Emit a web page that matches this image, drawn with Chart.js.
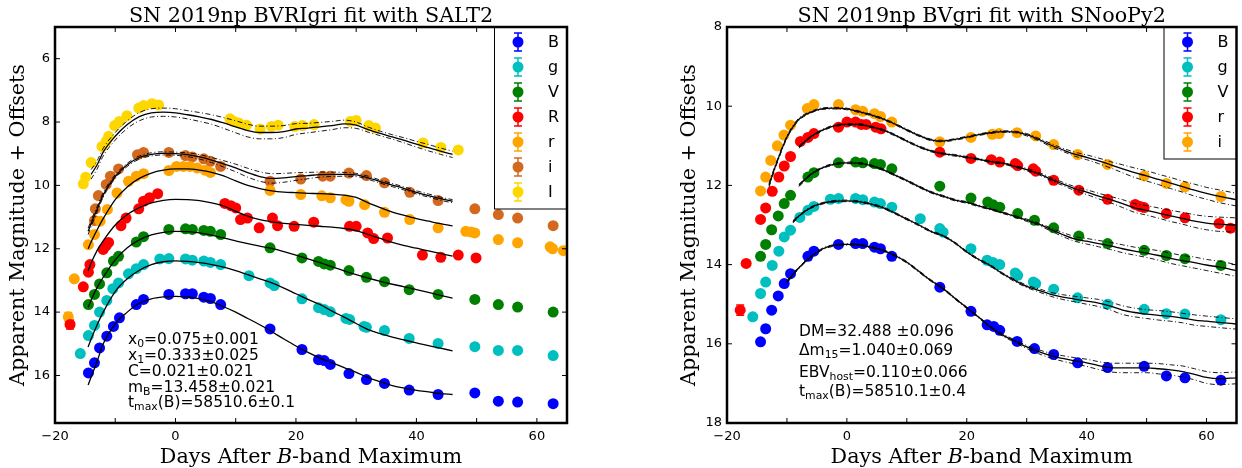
<!DOCTYPE html>
<html><head><meta charset="utf-8">
<script src="https://cdn.jsdelivr.net/npm/chart.js@4.4.1/dist/chart.umd.min.js"></script>
<style>
body{margin:0;background:#fff;width:1242px;height:468px;overflow:hidden;position:relative}
canvas{position:absolute;top:0}
#left{left:0}
#right{left:621px}
</style></head><body>
<canvas id="left" width="621" height="468"></canvas>
<canvas id="right" width="621" height="468"></canvas>
<script>
// ---- left panel: SALT2 (days after B max, magnitude + offset) ----
const lB_day=[-14.45,-13.45,-12.6,-11.4,-10.3,-9.3,-6.5,-5.3,-1.1,1.67,2.8,4.7,5.8,7.5,15.7,21.0,23.75,24.7,25.7,28.8,31.7,34.7,38.8,43.6,49.7,53.6,56.8,62.7]
const lB_mag=[15.92,15.6,15.13,14.76,14.45,14.18,13.76,13.6,13.44,13.42,13.42,13.53,13.57,13.76,14.53,15.18,15.5,15.53,15.65,15.94,16.13,16.25,16.46,16.6,16.55,16.81,16.84,16.89]
const lg_day=[-15.8,-14.45,-13.45,-12.6,-11.4,-10.4,-9.45,-7.8,-6.5,-5.3,-2.6,-1.1,1.67,2.8,4.7,5.8,7.5,12.2,15.7,16.4,21.0,23.75,24.7,25.7,28.3,28.9,31.3,31.7,34.7,38.8,43.6,49.7,53.6,56.8,62.7]
const lg_mag=[15.31,14.74,14.42,14.0,13.63,13.26,13.08,12.79,12.63,12.5,12.32,12.31,12.32,12.36,12.39,12.43,12.5,12.85,13.08,13.16,13.58,13.86,13.92,13.99,14.2,14.23,14.45,14.48,14.58,14.83,14.99,15.09,15.21,15.21,15.37]
const lV_day=[-14.45,-13.45,-12.6,-11.4,-10.3,-9.45,-6.5,-5.3,-1.1,1.67,2.8,4.7,5.8,7.5,15.7,21.0,23.75,24.7,25.7,28.8,31.7,34.7,38.8,43.6,49.7,53.6,56.8,62.7]
const lV_mag=[13.76,13.44,13.11,12.76,12.39,12.24,11.79,11.62,11.39,11.37,11.39,11.42,11.45,11.55,11.97,12.29,12.4,12.48,12.52,12.69,12.9,13.04,13.29,13.44,13.6,13.76,13.84,14.0]
const lR_day=[-17.5,-15.3,-14.45,-14.2,-12.0,-11.5,-11.1,-9.05,-8.2,-6.1,-5.3,-4.3,-2.95,8.2,9.2,10.0,10.8,11.95,13.9,16.1,16.95,19.7,22.95,28.9,30.0,31.9,32.9,35.2,41.0,44.05,46.95,49.9]
const lR_mag=[14.39,13.2,12.74,12.5,12.02,11.9,11.8,11.27,11.03,10.74,10.5,10.39,10.26,10.57,10.64,10.71,11.08,11.03,11.34,11.03,11.27,11.29,11.16,11.29,11.29,11.5,11.68,11.66,12.2,12.27,12.2,12.29]
const lR_err=[0.14]
const lr_day=[-17.8,-16.8,-14.45,-13.45,-12.5,-11.3,-9.7,-7.8,-6.5,-5.3,-1.1,0.17,1.3,2.4,3.6,4.9,5.8,15.7,20.8,24.3,25.7,28.3,28.8,31.4,34.7,38.9,43.6,48.2,49.05,49.7,53.6,56.8,62.2,62.6,64.4]
const lr_mag=[14.15,12.95,11.87,11.55,11.13,10.76,10.24,9.87,9.71,9.63,9.53,9.4,9.4,9.4,9.45,9.52,9.59,10.16,10.29,10.33,10.39,10.45,10.5,10.61,10.85,11.08,11.34,11.45,11.47,11.5,11.71,11.81,11.94,12.0,12.06]
const lr_err=[0.14]
const li_day=[-13.45,-13.3,-12.8,-11.5,-10.8,-9.45,-6.3,-5.3,-1.1,1.67,2.8,4.7,5.8,7.5,15.7,20.8,24.45,25.7,28.8,31.7,34.7,38.9,43.6,49.7,53.6,56.8,62.7]
const li_mag=[11.11,10.74,10.32,9.97,9.71,9.48,9.03,8.96,8.96,9.06,9.1,9.16,9.24,9.4,9.87,9.8,9.71,9.71,9.61,9.69,9.92,10.22,10.48,10.74,10.92,11.03,11.27]
const lI_day=[-15.3,-14.9,-14.0,-12.2,-11.5,-11.1,-10.1,-9.3,-8.05,-6.1,-5.3,-3.9,-2.8,9.05,9.7,10.5,11.8,14.05,15.95,17.05,19.8,21.1,23.0,29.05,30.0,32.1,33.2,41.1,44.05,46.95]
const lI_mag=[9.95,9.74,9.28,8.77,8.61,8.45,8.11,7.98,7.8,7.56,7.48,7.42,7.46,7.9,7.98,8.03,8.1,8.22,8.14,8.1,8.14,8.11,8.08,7.98,7.95,8.11,8.19,8.66,8.8,8.88]

// SALT2 model curves
const lFitDay=[-14.5,-14,-13,-12,-10,-8,-6,-4,-2,0,2,4,6,8,10,12,14,16,18,20,22,24,26,28,30,32,34,36,38,40,42,44,46]
const lFitB=[16.3,16.05,15.55,15.0,14.37,14.0,13.72,13.58,13.52,13.5,13.52,13.58,13.68,13.83,14.0,14.2,14.4,14.62,14.85,15.07,15.27,15.45,15.6,15.75,15.9,16.07,16.2,16.32,16.4,16.47,16.52,16.57,16.6]
const lFitg=[15.1,14.85,14.4,14.0,13.35,12.95,12.68,12.5,12.41,12.38,12.4,12.44,12.5,12.58,12.69,12.82,12.95,13.08,13.24,13.42,13.6,13.76,13.97,14.16,14.36,14.55,14.68,14.79,14.88,14.97,15.06,15.14,15.22]
const lFitV=[13.85,13.62,13.22,12.9,12.35,11.97,11.72,11.56,11.48,11.45,11.46,11.5,11.57,11.66,11.75,11.84,11.92,11.99,12.09,12.2,12.32,12.44,12.57,12.7,12.82,12.93,13.03,13.12,13.2,13.29,13.38,13.47,13.56]
const lFitR=[12.7,12.45,12.05,11.75,11.25,10.92,10.7,10.55,10.47,10.44,10.45,10.48,10.55,10.65,10.82,10.97,11.08,11.15,11.2,11.23,11.26,11.29,11.32,11.36,11.43,11.55,11.67,11.8,11.9,11.98,12.07,12.15,12.23]
const lFitr=[12.0,11.78,11.4,11.05,10.45,10.05,9.78,9.61,9.52,9.48,9.48,9.52,9.59,9.7,9.86,10.0,10.1,10.17,10.21,10.23,10.25,10.26,10.28,10.31,10.38,10.55,10.7,10.84,10.95,11.05,11.13,11.21,11.28]
const lFiti=[11.45,11.2,10.75,10.3,9.72,9.35,9.12,9.02,8.99,9.0,9.03,9.1,9.2,9.32,9.45,9.6,9.72,9.78,9.76,9.72,9.69,9.66,9.65,9.65,9.67,9.76,9.88,9.99,10.1,10.22,10.32,10.42,10.5]
const lFitI=[null,9.65,9.35,8.95,8.45,8.08,7.83,7.71,7.69,7.71,7.77,7.84,7.92,8.03,8.15,8.27,8.33,8.33,8.3,8.22,8.19,8.15,8.11,8.06,8.1,8.24,8.36,8.47,8.58,8.7,8.81,8.92,9.02]
const lSigi=[0.1,0.1,0.08,0.07,0.06,0.05,0.05,0.05,0.05,0.05,0.06,0.07,0.08,0.1,0.12,0.14,0.15,0.15,0.14,0.12,0.1,0.08,0.07,0.06,0.05,0.05,0.05,0.05,0.05,0.05,0.05,0.05,0.05]
const lSigI=[0.15,0.15,0.13,0.12,0.12,0.12,0.13,0.13,0.13,0.13,0.13,0.14,0.15,0.17,0.19,0.2,0.2,0.2,0.19,0.17,0.15,0.14,0.13,0.12,0.1,0.08,0.07,0.07,0.08,0.09,0.1,0.1,0.1]

// ---- right panel: SNooPy2 ----
const rB_day=[-14.4,-13.55,-12.55,-11.45,-10.45,-9.4,-6.5,-5.5,-1.4,1.45,2.65,4.6,5.6,7.5,15.5,20.7,23.4,24.5,25.5,28.4,31.3,34.5,38.5,43.5,49.6,53.3,56.4,62.4]
const rB_mag=[15.95,15.62,15.15,14.79,14.48,14.23,13.79,13.66,13.49,13.47,13.47,13.56,13.6,13.79,14.57,15.18,15.52,15.56,15.66,15.94,16.12,16.27,16.48,16.6,16.57,16.81,16.86,16.92]
const rg_day=[-15.7,-14.4,-13.55,-12.45,-11.35,-10.45,-9.4,-7.85,-6.5,-5.5,-2.75,-1.4,1.45,2.65,4.6,5.6,7.5,12.25,15.5,16.05,20.7,23.4,24.4,25.5,28.1,28.5,31.1,31.5,34.5,38.5,43.5,49.6,53.3,56.4,62.4]
const rg_mag=[15.32,14.73,14.44,14.02,13.66,13.3,13.13,12.81,12.63,12.53,12.35,12.33,12.33,12.36,12.42,12.46,12.55,12.84,13.09,13.18,13.6,13.89,13.95,14.0,14.21,14.27,14.44,14.48,14.62,14.84,15.0,15.13,15.24,15.25,15.39]
const rV_day=[-14.4,-13.55,-12.55,-11.45,-10.45,-9.4,-6.5,-5.5,-1.4,1.45,2.65,4.6,5.6,7.5,15.5,20.7,23.5,24.4,25.5,28.5,31.3,34.5,38.7,43.5,49.6,53.3,56.4,62.4]
const rV_mag=[13.79,13.49,13.12,12.77,12.46,12.25,11.79,11.68,11.43,11.41,11.43,11.45,11.47,11.58,12.02,12.32,12.42,12.49,12.55,12.71,12.88,13.07,13.28,13.47,13.64,13.77,13.85,14.02]
const rr_day=[-17.8,-16.8,-14.4,-13.55,-12.45,-11.35,-10.45,-9.4,-7.75,-6.5,-5.5,-1.4,0,1.45,2.4,3.2,4.8,5.7,15.5,20.7,24.1,25.5,28.1,28.5,31.1,31.5,34.5,38.7,43.5,48.1,48.9,49.6,53.3,56.4,62.1,64.0]
const rr_mag=[15.15,13.97,12.86,12.57,12.15,11.79,11.51,11.27,10.89,10.79,10.69,10.53,10.4,10.4,10.46,10.46,10.53,10.57,11.16,11.32,11.35,11.41,11.45,11.5,11.58,11.64,11.87,12.12,12.35,12.48,12.53,12.56,12.71,12.82,12.96,13.08]
const rr_err=[0.13]
const ri_day=[-14.4,-13.55,-12.7,-11.6,-10.5,-9.4,-6.6,-5.5,-1.4,1.45,2.65,4.6,5.6,7.5,15.5,20.7,24.25,25.4,28.4,31.5,34.5,38.5,43.5,49.6,53.3,56.4,62.4]
const ri_mag=[12.14,11.79,11.37,11.0,10.73,10.48,10.06,9.96,9.96,10.09,10.13,10.19,10.26,10.4,10.9,10.79,10.71,10.69,10.67,10.75,10.97,11.22,11.47,11.76,11.95,12.04,12.28]

const rFitDay=[-13,-12,-10,-9,-8,-6,-4,-2,0,2,4,6,8,10,12,14,16,18,20,22,24,26,28,30,32,34,36,38,40,42,44,46,48,50,52,54,56,58,60,62,65]
const rFitB=[null,null,14.44,14.25,14.08,13.8,13.6,13.51,13.49,13.5,13.56,13.64,13.77,13.94,14.17,14.4,14.6,14.85,15.09,15.33,15.58,15.78,15.93,16.08,16.2,16.3,16.37,16.43,16.48,16.55,16.6,16.61,16.61,16.61,16.63,16.66,16.7,16.77,16.85,16.88,16.86]
const rFitg=[null,null,null,12.92,12.77,12.56,12.45,12.4,12.39,12.41,12.47,12.56,12.7,12.85,13.0,13.16,13.27,13.45,13.68,13.87,14.03,14.23,14.4,14.55,14.65,14.75,14.82,14.87,14.92,14.97,15.05,15.15,15.21,15.25,15.28,15.31,15.35,15.4,15.43,15.46,15.5]
const rFitV=[null,null,null,null,12.0,11.72,11.55,11.46,11.43,11.44,11.5,11.6,11.74,11.88,12.03,12.17,12.27,12.37,12.43,12.52,12.6,12.69,12.78,12.88,12.98,13.11,13.24,13.35,13.41,13.47,13.53,13.6,13.66,13.71,13.77,13.84,13.9,13.95,14.01,14.06,14.15]
const rFitr=[null,null,null,null,11.03,10.77,10.6,10.49,10.46,10.46,10.52,10.6,10.73,10.88,11.02,11.13,11.2,11.24,11.29,11.34,11.4,11.44,11.52,11.6,11.7,11.84,11.96,12.08,12.17,12.27,12.36,12.46,12.57,12.63,12.7,12.77,12.83,12.9,12.95,12.98,13.0]
const rFiti=[12.0,11.55,10.78,10.52,10.33,10.15,10.06,10.05,10.07,10.14,10.22,10.32,10.45,10.6,10.74,10.85,10.88,10.84,10.78,10.72,10.67,10.64,10.65,10.72,10.84,10.98,11.1,11.21,11.29,11.38,11.48,11.58,11.68,11.76,11.85,11.94,12.03,12.12,12.2,12.27,12.36]
const rSigB=[0.03,0.03,0.03,0.03,0.02, 0.02,0.02,0.02,0.02,0.02, 0.02,0.02,0.02,0.02,0.02, 0.02,0.02,0.02,0.02,0.02, 0.02,0.03,0.03,0.04,0.05, 0.06,0.07,0.08,0.09,0.1, 0.11,0.12,0.12,0.12,0.13, 0.13,0.14,0.14,0.15,0.15, 0.15]
const rSigg=[0.03,0.03,0.03,0.03,0.02, 0.02,0.02,0.02,0.02,0.02, 0.02,0.02,0.02,0.02,0.02, 0.02,0.02,0.02,0.02,0.02, 0.02,0.02,0.03,0.03,0.04, 0.05,0.06,0.07,0.08,0.09, 0.1,0.11,0.11,0.11,0.12, 0.12,0.12,0.13,0.13,0.13, 0.13]
const rSigV=[0.03,0.03,0.03,0.03,0.03, 0.02,0.02,0.02,0.02,0.02, 0.02,0.02,0.02,0.02,0.02, 0.02,0.02,0.02,0.02,0.02, 0.02,0.02,0.02,0.03,0.03, 0.04,0.05,0.06,0.07,0.08, 0.09,0.1,0.1,0.11,0.12, 0.13,0.13,0.14,0.14,0.15, 0.15]
const rSigr=[0.03,0.03,0.03,0.03,0.03, 0.02,0.02,0.02,0.02,0.02, 0.02,0.02,0.02,0.02,0.02, 0.02,0.02,0.02,0.02,0.02, 0.02,0.02,0.02,0.03,0.03, 0.04,0.04,0.05,0.06,0.07, 0.08,0.1,0.11,0.12,0.13, 0.14,0.15,0.16,0.17,0.18, 0.18]
const rSigi=[0.05,0.04,0.03,0.03,0.03, 0.02,0.02,0.02,0.02,0.02, 0.02,0.02,0.02,0.02,0.02, 0.02,0.02,0.02,0.02,0.02, 0.02,0.02,0.02,0.03,0.03, 0.04,0.04,0.05,0.06,0.07, 0.08,0.1,0.12,0.13,0.13, 0.14,0.14,0.15,0.15,0.16, 0.16]

const xTicks=[-20,-10,0,10,20,30,40,50,60]
const lYTicks=[6,8,10,12,14,16]
const rYTicks=[8,10,12,14,16,18]

const lNotes=['x_{0}=0.075\u00b10.001','x_{1}=0.333\u00b10.025','C=0.021\u00b10.021','m_{B}=13.458\u00b10.021','t_{max}(B)=58510.6\u00b10.1']
const rNotes=['DM=32.488 \u00b10.096','\u0394m_{15}=1.040\u00b10.069','EBV_{host}=0.110\u00b10.066','t_{max}(B)=58510.1\u00b10.4']

const cB='#0000ff',cg='#00bfbf',cV='#008000',cR='#ff0000',cr='#ffa500',ci='#d2691e',cI='#ffd700'

const SANS="'DejaVu Sans', sans-serif"
const SERIF="'DejaVu Serif', serif"

function num(v){return v<0?'\u2212'+(-v):String(v)}
function pts(days,mags){return days.map((d,i)=>({x:d,y:mags[i]}))}
function curve(days,mags,sig,k){
return days.map((d,i)=>({x:d,y:mags[i]==null?null:(sig?mags[i]+k*sig[i]:mags[i])}))
}

function subText(ctx,str,x,y,size){
str.split(/(_\{[^}]*\})/).filter(s=>s).forEach(p=>{
if(p.startsWith('_{')){
const t=p.slice(2,-1)
ctx.font=(size*0.7)+'px '+SANS
ctx.fillText(t,x,y+size*0.22)
x+=ctx.measureText(t).width
}else{
ctx.font=size+'px '+SANS
ctx.fillText(p,x,y)
x+=ctx.measureText(p).width
}
})
}

function deco(cfg){
return {
id:'deco',
beforeDatasetsDraw(chart){
const ctx=chart.ctx,xs=chart.scales.x,ys=chart.scales.y
chart.data.datasets.forEach(ds=>{
if(!ds.errs) return
ds.errs.forEach((e,i)=>{
const p=ds.data[i]
const px=xs.getPixelForValue(p.x),y1=ys.getPixelForValue(p.y-e),y2=ys.getPixelForValue(p.y+e)
ctx.save()
ctx.strokeStyle=ds.backgroundColor
ctx.lineWidth=1.5
ctx.beginPath()
ctx.moveTo(px,y1);ctx.lineTo(px,y2)
ctx.moveTo(px-4,y1);ctx.lineTo(px+4,y1)
ctx.moveTo(px-4,y2);ctx.lineTo(px+4,y2)
ctx.stroke()
ctx.restore()
})
})
},
afterDraw(chart){
const ctx=chart.ctx,xs=chart.scales.x,ys=chart.scales.y
const {left,right,top,bottom}=chart.chartArea
ctx.save()
ctx.strokeStyle='#000'
// inward ticks on all four sides
ctx.lineWidth=1
ctx.beginPath()
xTicks.forEach(v=>{
const px=xs.getPixelForValue(v)
ctx.moveTo(px,bottom);ctx.lineTo(px,bottom-5)
ctx.moveTo(px,top);ctx.lineTo(px,top+5)
})
cfg.yTicks.forEach(v=>{
const py=ys.getPixelForValue(v)
ctx.moveTo(left,py);ctx.lineTo(left+5,py)
ctx.moveTo(right,py);ctx.lineTo(right-5,py)
})
ctx.stroke()

// legend
const items=chart.data.datasets.filter(d=>d.label)
const bw=73,bh=25*items.length+7,bx=right-bw,by=top
ctx.fillStyle='#fff'
ctx.fillRect(bx,by,bw,bh)
ctx.lineWidth=1
ctx.strokeRect(bx+0.5,by,bw-0.5,bh)
items.forEach((d,i)=>{
const cx=bx+24,cy=by+15+i*25
ctx.strokeStyle=d.backgroundColor
ctx.lineWidth=1.5
ctx.beginPath()
ctx.moveTo(cx,cy-9);ctx.lineTo(cx,cy+9)
ctx.moveTo(cx-4,cy-9);ctx.lineTo(cx+4,cy-9)
ctx.moveTo(cx-4,cy+9);ctx.lineTo(cx+4,cy+9)
ctx.stroke()
ctx.fillStyle=d.backgroundColor
ctx.beginPath();ctx.arc(cx,cy,5.5,0,Math.PI*2);ctx.fill()
ctx.fillStyle='#000'
ctx.font='16px '+SANS
ctx.textBaseline='middle'
ctx.textAlign='left'
ctx.fillText(d.label,cx+30,cy+1)
})

// frame
ctx.strokeStyle='#000'
ctx.lineWidth=2.5
ctx.strokeRect(left,top,right-left,bottom-top)

// fit parameters
ctx.fillStyle='#000'
ctx.textBaseline='alphabetic'
ctx.textAlign='left'
cfg.notes.forEach((s,i)=>subText(ctx,s,cfg.noteX,cfg.noteY[i],15.5))

// title
ctx.font='20.7px '+SERIF
ctx.textAlign='center'
ctx.fillText(cfg.title,(left+right)/2,21.5)

// x-axis label with italic B
const parts=[['Days After ',''],['B','italic '],['-band Maximum','']]
let w=0
parts.forEach(p=>{ctx.font=p[1]+'20.7px '+SERIF;w+=ctx.measureText(p[0]).width})
let x=(left+right)/2-w/2
ctx.textAlign='left'
parts.forEach(p=>{ctx.font=p[1]+'20.7px '+SERIF;ctx.fillText(p[0],x,463);x+=ctx.measureText(p[0]).width})
ctx.restore()
}
}
}

function makeChart(id,cfg){
const datasets=[]
cfg.bands.forEach(b=>datasets.push({type:'scatter',label:b.label,data:pts(b.days,b.mags),errs:b.errs,
backgroundColor:b.color,borderWidth:0,pointRadius:5.5,pointHoverRadius:5.5,order:2}))
cfg.fits.forEach(f=>{
datasets.push({type:'line',data:curve(cfg.fitDay,f.mags),borderColor:'#000',borderWidth:1.3,
pointRadius:0,cubicInterpolationMode:'monotone',order:1})
if(f.sig){
[-1,1].forEach(k=>datasets.push({type:'line',data:curve(cfg.fitDay,f.mags,f.sig,k),borderColor:'#000',
borderWidth:0.9,borderDash:[5,2.5,1,2.5],pointRadius:0,cubicInterpolationMode:'monotone',order:1}))
}
})
new Chart(document.getElementById(id),{
type:'scatter',
data:{datasets},
plugins:[deco(cfg)],
options:{
responsive:false,animation:false,events:[],
layout:{padding:{left:cfg.padL,right:cfg.padR,top:27,bottom:0}},
plugins:{legend:{display:false},tooltip:{enabled:false}},
scales:{
x:{type:'linear',min:-20,max:65,
afterBuildTicks:s=>{s.ticks=xTicks.map(v=>({value:v}))},
afterFit:s=>{s.height=45},
grid:{display:false,drawTicks:false},border:{display:false},
ticks:{autoSkip:false,maxRotation:0,padding:6,color:'#000',font:{family:SANS,size:13},
callback:v=>v%20===0?num(v):''}},
y:{type:'linear',reverse:true,min:cfg.ymin,max:cfg.ymax,
afterBuildTicks:s=>{s.ticks=cfg.yTicks.map(v=>({value:v}))},
afterFit:s=>{s.width=cfg.yW},
grid:{display:false,drawTicks:false},border:{display:false},
ticks:{padding:5,color:'#000',font:{family:SANS,size:13},callback:v=>num(v)},
title:{display:true,text:'Apparent Magnitude + Offsets',color:'#000',
font:{family:SERIF,size:20.7,lineHeight:1.2},padding:{top:6,bottom:0}}}
}
}
})
}

makeChart('left',{
title:'SN 2019np BVRIgri fit with SALT2',
padL:0,padR:54,yW:55,ymin:5,ymax:17.5,yTicks:lYTicks,
notes:lNotes,noteX:128,noteY:[343.5,359.5,375.5,391.5,407],
bands:[
{label:'B',days:lB_day,mags:lB_mag,color:cB},
{label:'g',days:lg_day,mags:lg_mag,color:cg},
{label:'V',days:lV_day,mags:lV_mag,color:cV},
{label:'R',days:lR_day,mags:lR_mag,color:cR,errs:lR_err},
{label:'r',days:lr_day,mags:lr_mag,color:cr,errs:lr_err},
{label:'i',days:li_day,mags:li_mag,color:ci},
{label:'I',days:lI_day,mags:lI_mag,color:cI}],
fitDay:lFitDay,
fits:[{mags:lFitB},{mags:lFitg},{mags:lFitV},{mags:lFitR},{mags:lFitr},{mags:lFiti,sig:lSigi},{mags:lFitI,sig:lSigI}]
})

makeChart('right',{
title:'SN 2019np BVgri fit with SNooPy2',
padL:50,padR:4,yW:56,ymin:8,ymax:18,yTicks:rYTicks,
notes:rNotes,noteX:178,noteY:[335.7,355,376.7,395.7],
bands:[
{label:'B',days:rB_day,mags:rB_mag,color:cB},
{label:'g',days:rg_day,mags:rg_mag,color:cg},
{label:'V',days:rV_day,mags:rV_mag,color:cV},
{label:'r',days:rr_day,mags:rr_mag,color:cR,errs:rr_err},
{label:'i',days:ri_day,mags:ri_mag,color:cr}],
fitDay:rFitDay,
fits:[{mags:rFitB,sig:rSigB},{mags:rFitg,sig:rSigg},{mags:rFitV,sig:rSigV},{mags:rFitr,sig:rSigr},{mags:rFiti,sig:rSigi}]
})
</script>
</body></html>
